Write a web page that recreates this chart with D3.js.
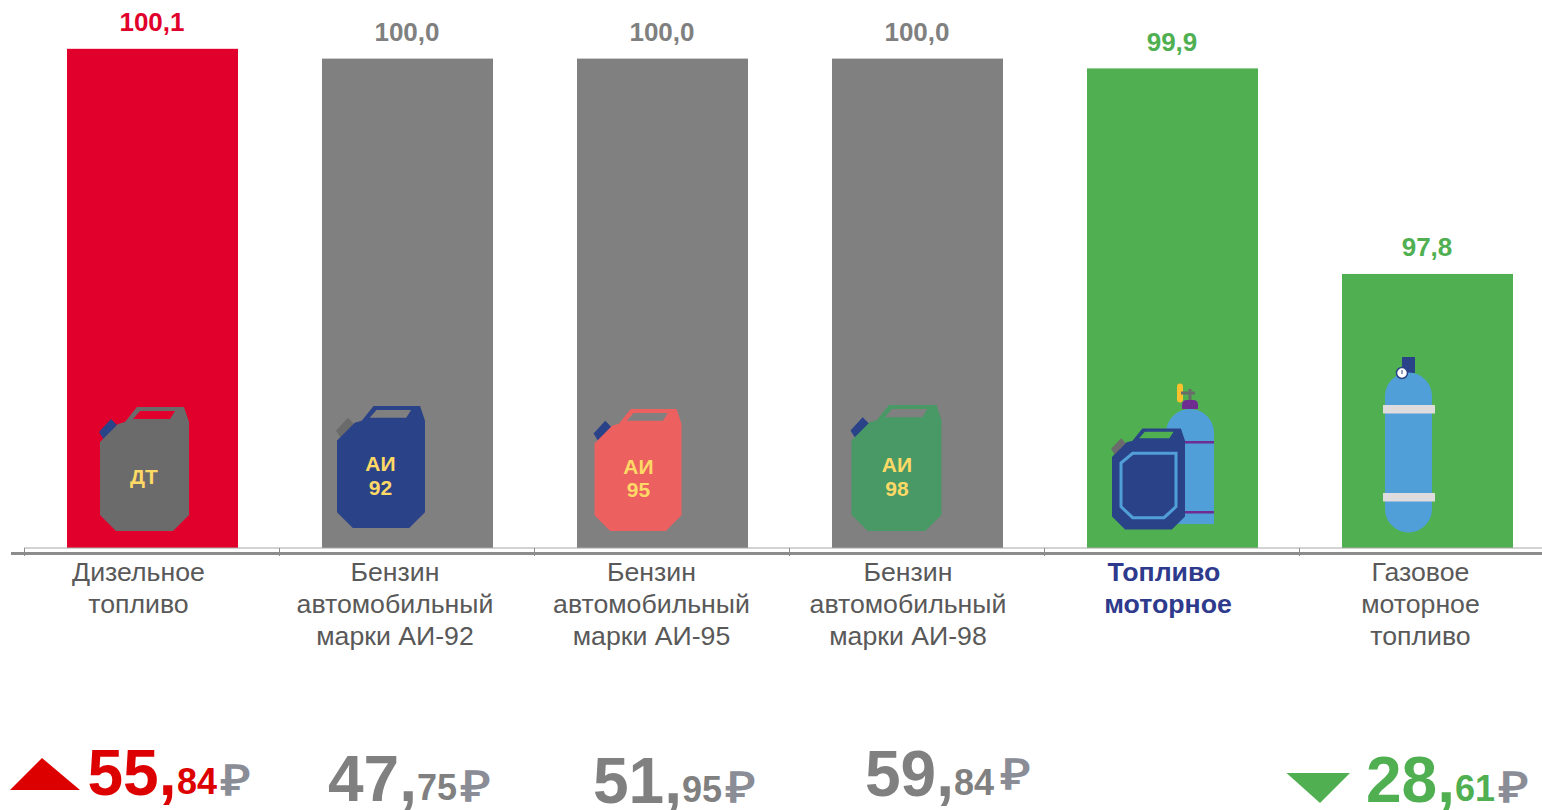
<!DOCTYPE html>
<html><head><meta charset="utf-8">
<style>html,body{margin:0;padding:0;background:#fff;overflow:hidden}svg{display:block}text{font-family:"Liberation Sans",Arial,sans-serif}</style>
<script src="https://cdnjs.cloudflare.com/ajax/libs/d3/7.8.5/d3.min.js"></script>
</head><body><svg id="c" width="1542" height="810"></svg>
<script>
const categories = ["Дизельное топливо","Бензин автомобильный марки АИ-92","Бензин автомобильный марки АИ-95","Бензин автомобильный марки АИ-98","Топливо моторное","Газовое моторное топливо"];
const categoryLines = [["Дизельное","топливо"],["Бензин","автомобильный","марки АИ-92"],["Бензин","автомобильный","марки АИ-95"],["Бензин","автомобильный","марки АИ-98"],["Топливо","моторное"],["Газовое","моторное","топливо"]];
const values = [100.1,100.0,100.0,100.0,99.9,97.8];
const valueLabels = ["100,1","100,0","100,0","100,0","99,9","97,8"];
const priceWhole = ["55","47","51","59",null,"28"];
const priceCents = ["84","75","95","84",null,"61"];

const RED="#E1002B",GRAY="#808080",GREEN="#4FAF51",NAVY="#2A4288",SKY="#519FD8",YEL="#FFD966";
const barColors=[RED,GRAY,GRAY,GRAY,GREEN,GREEN];
const labelColors=[RED,GRAY,GRAY,GRAY,GREEN,GREEN];
const priceColors=["#DD0000",GRAY,GRAY,GRAY,null,GREEN];
// layout only: offsets relative to each band and positions of the price row
const catDx=[-14,-12.5,-11,-9.5,-4.5,-7];
const priceLayout=[{x:87.5,y:795,cx:177,rx:221,ry:795},{x:328,y:801,cx:417,rx:461,ry:801},{x:593,y:803,cx:682,rx:726,ry:802},{x:865,y:796,cx:954,rx:1000.5,ry:789},null,{x:1366,y:802,cx:1455,rx:1499,ry:802}];

const svg=d3.select("#c");
const x=d3.scaleBand().domain(categories).range([25,1555]).paddingInner(84/255).paddingOuter(42/255);
const y=d3.scaleLinear().domain([95,100]).range([548,58.6]);

// bars
svg.append("g").selectAll("rect").data(categories).join("rect")
 .attr("x",d=>x(d)).attr("width",x.bandwidth())
 .attr("y",(d,i)=>y(values[i])).attr("height",(d,i)=>y(95)-y(values[i]))
 .attr("fill",(d,i)=>barColors[i]);

// value labels
svg.append("g").selectAll("text").data(categories).join("text")
 .attr("x",d=>x(d)+x.bandwidth()/2-.5).attr("y",(d,i)=>y(values[i])-17.6)
 .attr("text-anchor","middle").attr("font-weight","bold").attr("font-size",26)
 .attr("fill",(d,i)=>labelColors[i]).text((d,i)=>valueLabels[i]);

// axis
const axisG=svg.append("g");
axisG.append("line").attr("x1",24).attr("x2",1542).attr("y1",548).attr("y2",548).attr("stroke","#a6a6a6").attr("stroke-width",1);
axisG.append("line").attr("x1",11).attr("x2",1542).attr("y1",553.5).attr("y2",553.5).attr("stroke","#8c8c8c").attr("stroke-width",3);
axisG.selectAll("line.t").data(categories).join("line").attr("class","t")
 .attr("x1",d=>x(d)-x.step()*42/255-.5).attr("x2",d=>x(d)-x.step()*42/255-.5).attr("y1",548).attr("y2",556).attr("stroke","#8c8c8c");

// category labels
const lab=svg.append("g").selectAll("text").data(categories).join("text")
 .attr("text-anchor","middle").attr("font-size",26.7)
 .attr("font-weight",(d,i)=>i===4?"bold":"normal")
 .attr("fill",(d,i)=>i===4?"#2E3A8C":"#595959");
lab.each(function(d,i){
  const cx=x(d)+x.bandwidth()/2+catDx[i];
  d3.select(this).selectAll("tspan").data(categoryLines[i]).join("tspan")
    .attr("x",(l,j)=>cx-(i===4&&j===0?4:0)).attr("y",(l,j)=>581+j*32).text(l=>l);
});

// icons
function canister(g,w,h,body,cap,hole,lines,tc){
  const sx=w/89,sy=h/124,p=a=>a.map(q=>[q[0]*sx,q[1]*sy].join(",")).join(" ");
  g.append("polygon").attr("points",p([[-1,25],[11,12],[18,19],[4,33]])).attr("fill",cap);
  g.append("polygon").attr("points",p([[0,35],[18,17],[25,15],[37,0],[84,0],[89,15],[89,108],[73,124],[16,124],[0,108]])).attr("fill",body);
  g.append("polygon").attr("points",p([[33,12],[70,12],[75,4],[40,4]])).attr("fill",hole);
  lines.forEach(l=>g.append("text").attr("x",l[1]*sx).attr("y",l[2]*sy).attr("text-anchor","middle")
    .attr("font-weight","bold").attr("font-size",21).attr("fill",tc).text(l[0]));
}
const ox=categories.map(d=>x(d));
canister(svg.append("g").attr("transform",`translate(${ox[0]+33},407)`),89,124,"#6B6B6B",NAVY,RED,[["ДТ",44,77]],YEL);
canister(svg.append("g").attr("transform",`translate(${ox[1]+15},406)`),88,122,NAVY,"#6B6B6B",GRAY,[["АИ",44,66],["92",44,90]],YEL);
canister(svg.append("g").attr("transform",`translate(${ox[2]+17.5},409)`),87,122,"#EC6060",NAVY,GRAY,[["АИ",45,66],["95",45,89]],YEL);
canister(svg.append("g").attr("transform",`translate(${ox[3]+19.5},405)`),90,126,"#489966",NAVY,GRAY,[["АИ",45,66],["98",45,90]],YEL);

// motor fuel: cylinder + canister
const m=svg.append("g").attr("transform",`translate(${ox[4]},0)`);
m.append("rect").attr("x",90).attr("y",383.5).attr("width",6).attr("height",19).attr("rx",3).attr("fill","#FBC02D");
m.append("path").attr("d","M94 393H108M103 389V400").attr("stroke","#6B6B6B").attr("stroke-width",3).attr("fill","none");
m.append("path").attr("d","M95 409V405Q95 400 100 400H106Q111 400 111 405V409Z").attr("fill","#6F2C91");
m.append("path").attr("d","M79 524V433A24 24 0 0 1 127 433V524Z").attr("fill",SKY);
m.append("rect").attr("x",90).attr("y",441).attr("width",37).attr("height",2.5).attr("fill","#6F2C91");
m.append("rect").attr("x",90).attr("y",511).attr("width",37).attr("height",2.5).attr("fill","#6F2C91");
canister(m.append("g").attr("transform","translate(25,428.5)"),73,101,NAVY,"#6B6B6B",GREEN,[],YEL);
m.append("polygon").attr("points","34,463 45.7,453.3 89,453.3 89,506.7 77,517.7 45.7,517.7 34,506.7").attr("fill","none").attr("stroke",SKY).attr("stroke-width",3);

// gas cylinder
const c=svg.append("g").attr("transform",`translate(${ox[5]},0)`);
c.append("rect").attr("x",60).attr("y",357).attr("width",13).attr("height",16).attr("fill",NAVY);
c.append("path").attr("d","M43 396A23.5 23.5 0 0 1 90 396V509A23.5 23.5 0 0 1 43 509Z").attr("fill",SKY);
c.append("rect").attr("x",41).attr("y",405).attr("width",52).attr("height",8.5).attr("fill","#DEDCDC");
c.append("rect").attr("x",41).attr("y",493).attr("width",52).attr("height",8.5).attr("fill","#DEDCDC");
c.append("circle").attr("cx",60).attr("cy",373).attr("r",5.5).attr("fill","#fff").attr("stroke",NAVY).attr("stroke-width",1.5);
c.append("path").attr("d","M60 370V374").attr("stroke",NAVY).attr("stroke-width",1);

// prices
const priceG=svg.append("g");
categories.forEach((d,i)=>{
  if(!priceWhole[i])return; const L=priceLayout[i];
  priceG.append("text").attr("x",L.x).attr("y",L.y).attr("font-weight","bold").attr("font-size",64).attr("fill",priceColors[i]).text(priceWhole[i]+",");
  priceG.append("text").attr("x",L.cx).attr("y",L.y-1).attr("font-weight","bold").attr("font-size",36).attr("fill",priceColors[i]).text(priceCents[i]);
  priceG.append("text").attr("x",L.rx).attr("y",L.ry).attr("font-weight","bold").attr("font-size",42).attr("textLength",29).attr("lengthAdjust","spacingAndGlyphs").attr("fill","#8A8C96").text("₽");
});
svg.append("polygon").attr("points","10,790 42,758 80,790").attr("fill","#DD0000");
svg.append("polygon").attr("points","1286.5,773 1350,773 1320,803").attr("fill",GREEN);
</script></body></html>
